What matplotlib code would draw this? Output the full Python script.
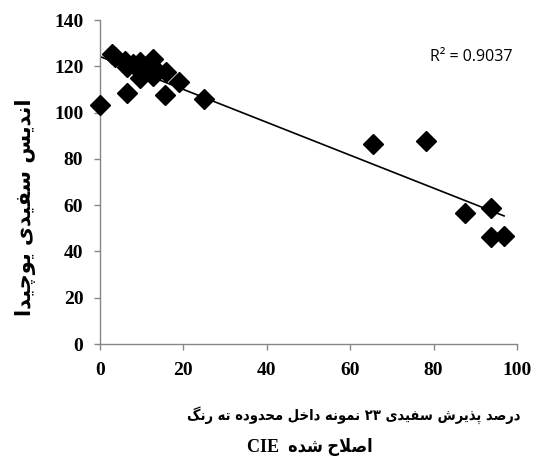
import re
import numpy as np
import matplotlib
matplotlib.use("Agg")
import matplotlib.pyplot as plt

# whiteness acceptance (%) vs Uchida whiteness index, 23 samples
x_vals = [0, 2.8, 3.6, 6.0, 6.5, 8.0, 6.4, 9.6, 9.6, 11.0, 12.6, 12.6,
          12.6, 15.8, 15.7, 18.9, 24.9, 65.5, 78.1, 87.5, 93.8, 93.8, 96.9]
y_vals = [103.3, 125.2, 124.0, 122.5, 119.8, 121.0, 108.6, 122.0, 114.8, 118.5,
          123.0, 119.5, 116.0, 117.7, 107.6, 113.4, 105.9, 86.4, 87.6, 56.7,
          58.6, 46.4, 46.7]
x_ticks = [0, 20, 40, 60, 80, 100]
y_ticks = [0, 20, 40, 60, 80, 100, 120, 140]
r2_label = "R² = 0.9037"
y_title = "اندیس سفیدی یوچیدا"
x_title_1 = "درصد پذیرش سفیدی ۲۳ نمونه داخل محدوده ته رنگ"
x_title_2 = "اصلاح شده  CIE"

# matplotlib does no arabic shaping, so pick presentation forms by hand
# isolated, final, initial, medial
FORMS = {
    'ا': ('\ufe8d', '\ufe8e', None, None),
    'د': ('\ufea9', '\ufeaa', None, None),
    'ذ': ('\ufeab', '\ufeac', None, None),
    'ر': ('\ufead', '\ufeae', None, None),
    'و': ('\ufeed', '\ufeee', None, None),
    '\ufefb': ('\ufefb', '\ufefc', None, None),
    'پ': ('\ufb56', '\ufb57', '\ufb58', '\ufb59'),
    'ت': ('\ufe95', '\ufe96', '\ufe97', '\ufe98'),
    'چ': ('\ufb7a', '\ufb7b', '\ufb7c', '\ufb7d'),
    'ح': ('\ufea1', '\ufea2', '\ufea3', '\ufea4'),
    'خ': ('\ufea5', '\ufea6', '\ufea7', '\ufea8'),
    'س': ('\ufeb1', '\ufeb2', '\ufeb3', '\ufeb4'),
    'ش': ('\ufeb5', '\ufeb6', '\ufeb7', '\ufeb8'),
    'ص': ('\ufeb9', '\ufeba', '\ufebb', '\ufebc'),
    'ف': ('\ufed1', '\ufed2', '\ufed3', '\ufed4'),
    'گ': ('\ufb92', '\ufb93', '\ufb94', '\ufb95'),
    'ل': ('\ufedd', '\ufede', '\ufedf', '\ufee0'),
    'م': ('\ufee1', '\ufee2', '\ufee3', '\ufee4'),
    'ن': ('\ufee5', '\ufee6', '\ufee7', '\ufee8'),
    'ه': ('\ufee9', '\ufeea', '\ufeeb', '\ufeec'),
    'ی': ('\ufbfc', '\ufbfd', '\ufbfe', '\ufbff'),
}


def shape(text):
    text = text.replace('لا', '\ufefb')
    out = []
    for i, ch in enumerate(text):
        if ch not in FORMS:
            out.append(ch)
            continue
        prev = text[i - 1] if i > 0 else ''
        nxt = text[i + 1] if i + 1 < len(text) else ''
        join_prev = prev in FORMS and FORMS[prev][2] is not None
        join_next = FORMS[ch][2] is not None and nxt in FORMS
        iso, fin, ini, med = FORMS[ch]
        if join_prev and join_next:
            out.append(med)
        elif join_prev:
            out.append(fin)
        elif join_next:
            out.append(ini)
        else:
            out.append(iso)
    # visual order: reverse the runs, latin/digit runs keep their own order
    ltr = r'[A-Za-z0-9\u06f0-\u06f9]'
    runs = re.findall(ltr + r'+|[^A-Za-z0-9\u06f0-\u06f9]+', ''.join(out))
    return ''.join(r if re.match(ltr, r) else r[::-1] for r in runs[::-1])


grey = '#868686'
fig = plt.figure(figsize=(5.33, 4.70), dpi=100)
ax = fig.add_axes([0.1876, 0.268, 0.7824, 0.6894])

ax.plot(x_vals, y_vals, linestyle='None', marker='D', markersize=10,
        color='black', clip_on=False, zorder=3)

# linear trendline
slope, intercept = np.polyfit(x_vals, y_vals, 1)
xs = np.array([0, max(x_vals)])
ax.plot(xs, slope * xs + intercept, color='black', linewidth=1.2, zorder=2)

ax.set_xlim(0, 100)
ax.set_ylim(0, 140)
ax.set_xticks(x_ticks)
ax.set_yticks(y_ticks)
for s in ['top', 'right']:
    ax.spines[s].set_visible(False)
for s in ['left', 'bottom']:
    ax.spines[s].set_color(grey)
    ax.spines[s].set_linewidth(1.0)
ax.tick_params(direction='out', length=4, width=1.0, color=grey)
ax.tick_params(axis='x', pad=9)
ax.tick_params(axis='y', pad=8)
for lab in ax.get_xticklabels() + ax.get_yticklabels():
    lab.set_fontfamily('Liberation Serif')
    lab.set_fontweight('bold')
    lab.set_fontsize(14)

ax.text(0.988, 0.886, r2_label, transform=ax.transAxes, ha='right', va='center',
        fontsize=11.5, family='Open Sans')

fig.text(0.047, 0.56, shape(y_title), rotation=90, ha='center', va='center',
         fontsize=15, fontweight='bold', family=['DejaVu Sans'])
fig.text(0.663, 0.117, shape(x_title_1), ha='center', va='center',
         fontsize=10.5, fontweight='bold', fontstretch='condensed',
         family=['DejaVu Sans'])
# latin part in a serif face, arabic falls back to dejavu
fig.text(0.582, 0.049, shape(x_title_2), ha='center', va='center',
         fontsize=13, fontweight='bold', fontstretch='condensed',
         family=['Liberation Serif', 'DejaVu Sans'])

fig.savefig('out.png', dpi=100)
